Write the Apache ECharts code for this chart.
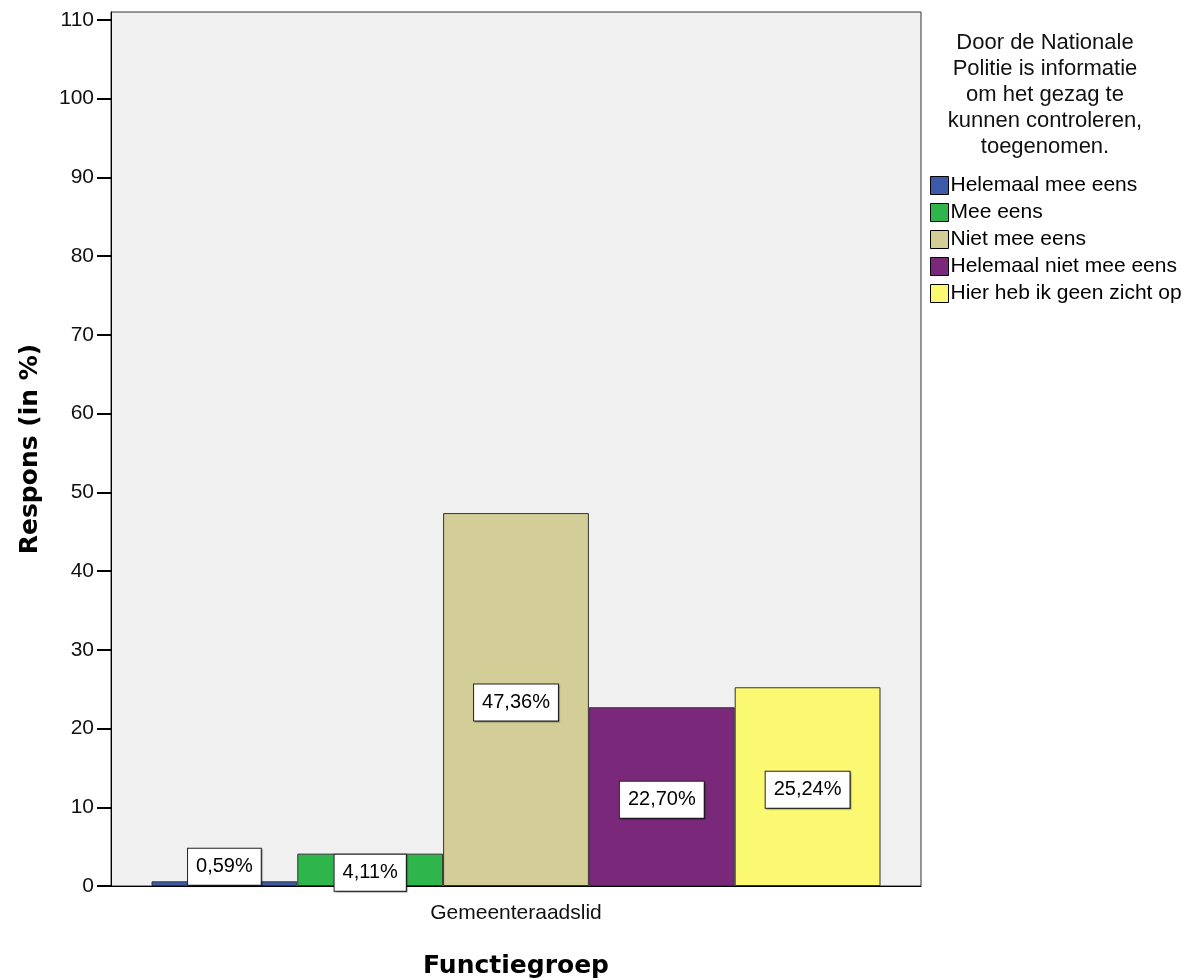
<!DOCTYPE html>
<html>
<head>
<meta charset="utf-8">
<script src="https://cdn.jsdelivr.net/npm/echarts@6/dist/echarts.min.js"></script>
<style>
  html, body { margin: 0; padding: 0; background: #fff; }
  #chart { width: 1199px; height: 980px; }
</style>
</head>
<body>
<div id="chart"></div>
<script>
// data
const categories = ['Gemeenteraadslid']
const seriesNames = ['Helemaal mee eens', 'Mee eens', 'Niet mee eens', 'Helemaal niet mee eens', 'Hier heb ik geen zicht op']
const helemaalMeeEens = [0.59]
const meeEens = [4.11]
const nietMeeEens = [47.36]
const helemaalNietMeeEens = [22.70]
const geenZicht = [25.24]
const yTicks = [0, 10, 20, 30, 40, 50, 60, 70, 80, 90, 100, 110]

const colors = ['#3c5aa8', '#2eb54b', '#d3ce97', '#7a287a', '#fbf872']
const values = [helemaalMeeEens, meeEens, nietMeeEens, helemaalNietMeeEens, geenZicht]
const fontReg = 'Liberation Sans, Arial, sans-serif'
const fontBold = 'DejaVu Sans, sans-serif'

const chart = echarts.init(document.getElementById('chart'))

const series = seriesNames.map(function (name, i) {
  return {
    name: name,
    type: 'bar',
    data: values[i],
    barGap: 0,
    barCategoryGap: '10%',
    itemStyle: { color: colors[i], borderColor: '#333', borderWidth: 1 },
    label: {
      show: true,
      position: 'inside',
      // tiny bars: label pushed up so it clears the axis
      offset: values[i][0] < 2 ? [0, -17] : [0, 3],
      formatter: function (p) { return p.value.toFixed(2).replace('.', ',') + '%' },
      color: '#000',
      fontFamily: fontReg,
      fontSize: 20,
      backgroundColor: '#fff',
      borderColor: '#222',
      borderWidth: 1,
      padding: [8, 8, 8, 8],
      shadowColor: 'rgba(0,0,0,0.3)',
      shadowOffsetX: 1,
      shadowOffsetY: 1,
      shadowBlur: 1
    }
  }
})

chart.setOption({
  animation: false,
  backgroundColor: '#fff',
  title: {
    text: 'Door de Nationale\nPolitie is informatie\nom het gezag te\nkunnen controleren,\ntoegenomen.',
    left: 1040,
    top: 25,
    textAlign: 'center',
    textStyle: {
      fontFamily: fontReg,
      fontSize: 22,
      fontWeight: 'normal',
      lineHeight: 26,
      color: '#111',
      align: 'center'
    }
  },
  legend: {
    orient: 'vertical',
    left: 925,
    top: 170,
    itemWidth: 18,
    itemHeight: 18,
    itemGap: 6,
    icon: 'rect',
    itemStyle: { borderColor: '#000', borderWidth: 1 },
    textStyle: { fontFamily: fontReg, fontSize: 21, color: '#000', padding: [0, 0, 0, -3] },
    data: seriesNames
  },
  grid: {
    left: 111,
    top: 12,
    right: 278,
    bottom: 94,
    outerBoundsMode: 'none',
    containLabel: false,
    show: true,
    backgroundColor: '#f0f0f0',
    borderColor: '#333',
    borderWidth: 1
  },
  xAxis: {
    type: 'category',
    data: categories,
    name: 'Functiegroep',
    nameLocation: 'middle',
    nameGap: 68,
    nameTextStyle: { fontFamily: fontBold, fontSize: 25, fontWeight: 'bold', color: '#000' },
    axisLine: { lineStyle: { color: '#000', width: 1 } },
    axisTick: { alignWithLabel: true, length: 10, lineStyle: { color: '#000' } },
    axisLabel: { fontFamily: fontReg, fontSize: 21, color: '#111', margin: 17 }
  },
  yAxis: {
    type: 'value',
    min: 0,
    max: 111,
    interval: 10,
    name: 'Respons (in %)',
    nameLocation: 'middle',
    nameRotate: 90,
    nameGap: 68,
    nameTextStyle: { fontFamily: fontBold, fontSize: 25, fontWeight: 'bold', color: '#000' },
    axisLine: { show: true, lineStyle: { color: '#000', width: 1 } },
    axisTick: { show: true, length: 14, customValues: yTicks, lineStyle: { color: '#000', width: 2 } },
    axisLabel: { fontFamily: fontReg, fontSize: 21, color: '#111', margin: 17, customValues: yTicks },
    splitLine: { show: false }
  },
  series: series
})
</script>
</body>
</html>
